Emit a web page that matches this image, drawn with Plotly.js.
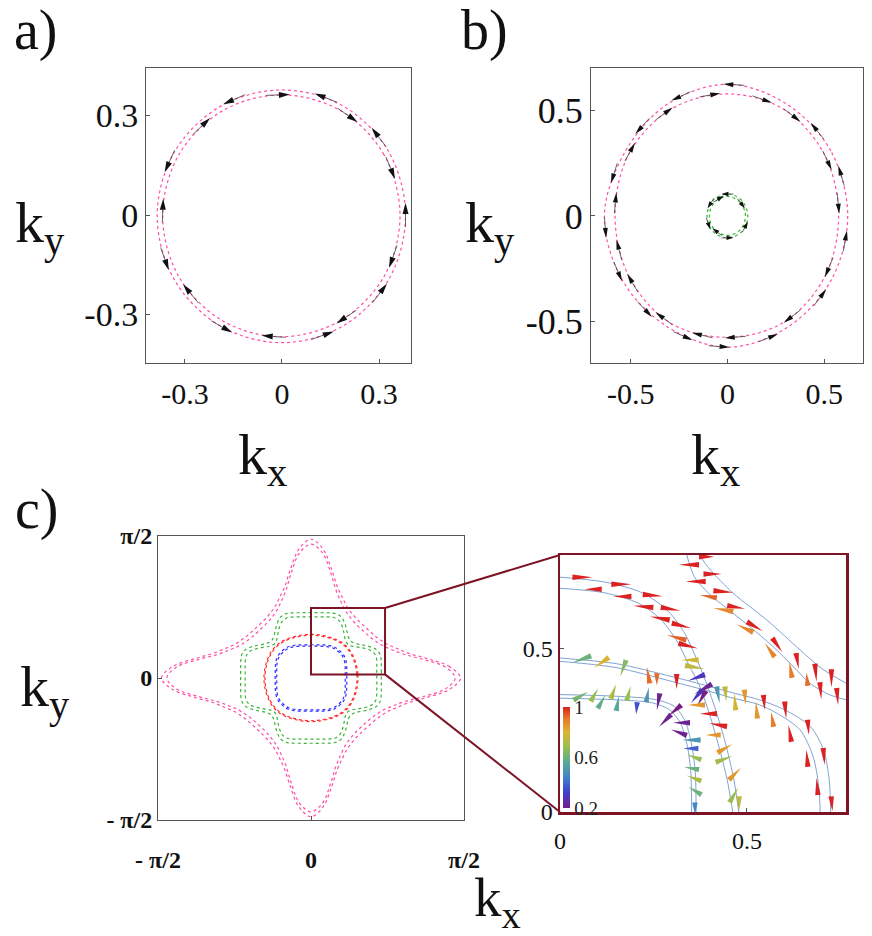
<!DOCTYPE html>
<html><head><meta charset="utf-8">
<script src="https://cdn.plot.ly/plotly-3.0.1.min.js"></script>
<style>body{margin:0;background:#fff}#chart{width:872px;height:936px}</style>
</head><body><div id="chart"></div>
<script>
// ================= DATA =================
// panel a: two spin-split Fermi circles (polar: angle deg, radius)
const aAng = [0,30,60,90,120,150,180,210,240,270,300,330];
const aOut = [0.382,0.381,0.379,0.377,0.379,0.383,0.386,0.386,0.385,0.385,0.384,0.383];
const aIn  = [0.365,0.364,0.363,0.362,0.364,0.367,0.369,0.369,0.368,0.367,0.366,0.366];
const aArrowOut = [155,113,69,38,0,-38,-71,-119,-160];      // counter-clockwise spins
const aArrowIn  = [178,133,92,56,23,-20,-57,-94,-140];      // clockwise spins
const aTickVals = [-0.3,0,0.3];
const aTickText = ['-0.3','0','0.3'];

// panel b
const bAng = [0,30,60,90,120,150,180,210,240,270,300,330];
const bOut = [0.621,0.616,0.612,0.624,0.614,0.610,0.636,0.622,0.610,0.622,0.612,0.616];
const bIn  = [0.574,0.579,0.583,0.578,0.584,0.588,0.581,0.584,0.587,0.575,0.582,0.579];
const bSmallAng = [0,45,90,135,180,225,270,315];
const bSmallOut = [0.105,0.104,0.104,0.105,0.106,0.105,0.104,0.105];
const bSmallIn  = [0.093,0.092,0.092,0.093,0.094,0.093,0.092,0.093];
const bArrowOut = [87,113,136,161,185,205,226,248,266,290,321,349,18,41];
const bArrowIn  = [99,124,149,174,196,213,236,257,274,305,335,6,27,55,72];
const bSmallArrowOut = [90,145,200,270,330];
const bSmallArrowIn  = [40,120,235];
const bTickVals = [-0.5,0,0.5];
const bTickText = ['-0.5','0','0.5'];

// panel c: first-quadrant radii (4-fold symmetric contours)
const cAng = [0,5,10,15,20,25,30,35,40,45,50,55,60,65,70,75,80,85,90];
const pinkOut  = [1.535,1.43,1.22,1.045,0.945,0.872,0.832,0.807,0.795,0.792,0.795,0.807,0.832,0.872,0.945,1.045,1.22,1.43,1.535];
const pinkIn   = [1.48,1.385,1.175,1.0,0.898,0.828,0.788,0.763,0.75,0.748,0.75,0.763,0.788,0.828,0.898,1.0,1.175,1.385,1.48];
const greenOut = [0.722,0.725,0.733,0.746,0.756,0.742,0.695,0.64,0.595,0.578,0.595,0.64,0.695,0.742,0.756,0.746,0.733,0.725,0.722];
const greenIn  = [0.676,0.678,0.686,0.699,0.709,0.695,0.648,0.594,0.549,0.532,0.549,0.594,0.648,0.695,0.709,0.699,0.686,0.678,0.676];
const redOut   = [0.483,0.483,0.484,0.486,0.489,0.493,0.497,0.501,0.504,0.505,0.504,0.501,0.497,0.493,0.489,0.486,0.484,0.483,0.483];
const redIn    = [0.473,0.473,0.474,0.476,0.479,0.483,0.487,0.491,0.494,0.495,0.494,0.491,0.487,0.483,0.479,0.476,0.474,0.473,0.473];
const blueOut  = [0.368,0.369,0.373,0.38,0.389,0.4,0.41,0.418,0.421,0.421,0.421,0.418,0.41,0.4,0.389,0.38,0.373,0.369,0.368];
const blueIn   = [0.352,0.353,0.357,0.364,0.373,0.384,0.394,0.402,0.405,0.405,0.405,0.402,0.394,0.384,0.373,0.364,0.357,0.353,0.352];
const cTickVals = [-Math.PI/2, 0, Math.PI/2];
const cTickText = ['- π/2','0','π/2'];
const zoomBoxX = [0, 0.76];
const zoomBoxY = [0.04, 0.775];

// inset: band lines (x, y pairs)
const tOutX = [0,0.12,0.22,0.29,0.335,0.365,0.39,0.42,0.445,0.465,0.478];
const tOutY = [0.72,0.705,0.672,0.615,0.545,0.47,0.40,0.30,0.20,0.10,0];
const tInX  = [0,0.12,0.21,0.27,0.315,0.345,0.372,0.40,0.425,0.447,0.462];
const tInY  = [0.686,0.672,0.64,0.59,0.52,0.45,0.39,0.30,0.20,0.10,0];
const mOutX = [0,0.15,0.30,0.40,0.46,0.53,0.60,0.67,0.705,0.72,0.724];
const mOutY = [0.472,0.455,0.415,0.385,0.366,0.345,0.314,0.262,0.19,0.10,0];
const mInX  = [0,0.15,0.30,0.40,0.46,0.53,0.58,0.642,0.677,0.692,0.696];
const mInY  = [0.462,0.443,0.40,0.37,0.35,0.33,0.303,0.252,0.17,0.08,0];
const lOutX = [0,0.15,0.254,0.307,0.336,0.353,0.362,0.364];
const lOutY = [0.36,0.355,0.345,0.323,0.275,0.2,0.12,0];
const lInX  = [0,0.15,0.245,0.295,0.324,0.341,0.35,0.352];
const lInY  = [0.349,0.344,0.335,0.312,0.268,0.2,0.12,0];
const pAX = [0.372,0.40,0.463,0.553,0.642,0.70,0.765];
const pAY = [0.788,0.745,0.671,0.589,0.497,0.44,0.395];
const pBX = [0.339,0.36,0.40,0.46,0.508,0.570,0.624,0.668,0.72,0.765];
const pBY = [0.788,0.72,0.668,0.612,0.568,0.507,0.446,0.395,0.36,0.344];

// inset: spin wedges (center x, center y, direction deg, length px, magnitude)
const wX = [0.060,0.089,0.164,0.167,0.248,0.223,0.296,0.267,0.325,0.312,0.343,0.348,0.361,0.365,0.383,0.365,0.379,0.365,0.397,0.423,0.410,0.441,0.439,0.468,0.465,0.479,
  0.345,0.392,0.408,0.363,0.437,0.397,0.471,0.437,0.521,0.495,0.581,0.561,0.635,0.617,0.684,0.661,0.726,0.742,0.697,
  0.058,0.111,0.169,0.236,0.259,0.312,0.423,0.443,0.468,0.495,0.526,0.546,0.568,0.603,0.615,0.664,0.661,0.706,0.688,0.727,
  0.056,0.092,0.111,0.143,0.154,0.184,0.205,0.234,0.263,0.307,0.281,0.325,0.318,0.352,0.350,0.359,0.352,0.359,0.361,0.361];
const wY = [0.720,0.683,0.698,0.661,0.664,0.630,0.622,0.594,0.571,0.535,0.509,0.466,0.444,0.412,0.377,0.354,0.349,0.328,0.301,0.267,0.236,0.195,0.162,0.117,0.052,0.025,
  0.758,0.783,0.730,0.707,0.676,0.661,0.628,0.620,0.569,0.563,0.512,0.497,0.463,0.436,0.427,0.407,0.410,0.354,0.372,
  0.468,0.458,0.441,0.420,0.407,0.400,0.359,0.362,0.338,0.352,0.313,0.336,0.284,0.313,0.241,0.260,0.165,0.170,0.078,0.025,
  0.356,0.359,0.338,0.369,0.333,0.364,0.318,0.359,0.338,0.311,0.280,0.274,0.244,0.221,0.195,0.168,0.134,0.103,0.065,0.011];
const wDir = [0,180,0,180,-5,175,-10,170,-15,165,-15,180,-10,-160,-150,-130,-120,180,180,170,180,30,20,45,60,-90,
  180,0,0,180,-5,170,-10,170,-30,155,-55,125,-80,100,-85,95,-90,-85,-85,
  200,215,-110,100,-90,-90,-80,-85,95,-85,95,-85,100,-85,100,-85,95,-85,95,-85,
  30,60,60,70,80,75,-95,80,-100,-140,-135,180,160,180,180,160,170,160,150,-90];
const wLen = [20,17,20,18,20,20,20,20,20,20,20,17,20,18,20,17,17,17,17,18,15,17,18,17,17,15,
  20,15,18,20,20,17,18,20,18,18,17,17,16,16,18,13,18,17,17,
  20,18,17,17,12,15,17,15,17,15,17,15,15,17,17,15,17,17,17,15,
  17,15,15,15,15,15,12,15,17,17,17,17,17,18,15,15,15,15,15,12];
const wVal = [1,1,1,1,1,1,1,1,1,0.93,1,0.78,0.75,0.3,0.22,0.3,0.2,0.85,1,1,0.85,0.85,0.7,0.85,0.68,0.75,
  1,1,1,1,1,0.93,1,0.88,1,0.88,1,0.88,1,0.9,1,0.92,1,1,1,
  0.6,0.8,0.65,0.92,0.92,1,0.5,0.75,0.78,0.85,0.85,1,0.9,1,1,1,1,1,1,1,
  0.62,0.68,0.58,0.72,0.55,0.68,0.35,0.5,0.22,0.2,0.22,0.22,0.22,0.5,0.38,0.68,0.6,0.72,0.6,0.45];
const insetTickVals = [0,0.5];
const insetTickText = ['0','0.5'];
const cbarTickVals = [0.2,0.6,1];
const cbarTickText = ['0.2','0.6','1'];
const cMin = 0.2, cMax = 1;

// ================= STYLE / GEOMETRY =================
const W = 872, H = 936;
const SERIF = '"Liberation Serif", "Times New Roman", serif';
const PINK = '#ff4fa6', GREEN = '#38b338', RED = '#ff2a2a', BLUE = '#2b2bff';
const MAROON = '#7d1426';
const rainbowStops = [[0,[120,28,134]],[0.15,[62,62,200]],[0.3,[66,128,205]],[0.45,[88,170,150]],
  [0.6,[150,190,80]],[0.75,[220,180,50]],[0.88,[232,122,40]],[1,[219,33,34]]];
const colorscale = rainbowStops.map(s => [s[0], 'rgb(' + s[1].join(',') + ')']);
function rainbow(v){
  let t = (v - cMin) / (cMax - cMin); t = Math.max(0, Math.min(1, t));
  for (let i = 0; i < rainbowStops.length - 1; i++){
    const [t0,c0] = rainbowStops[i], [t1,c1] = rainbowStops[i+1];
    if (t >= t0 && t <= t1){
      const f = (t - t0) / (t1 - t0);
      return 'rgb(' + c0.map((c,k) => Math.round(c + (c1[k]-c)*f)).join(',') + ')';
    }
  }
  return 'rgb(219,33,34)';
}
const px = {
  a: {x:[146,411], y:[68,363], xr:[-0.4205,0.3989], yr:[-0.4462,0.4432]},
  b: {x:[591,863], y:[68,363], xr:[-0.705,0.70], yr:[-0.697,0.701]},
  c: {x:[158,464], y:[536,820], xr:[-Math.PI/2,Math.PI/2], yr:[-Math.PI/2,Math.PI/2]},
  d: {x:[560,846], y:[555,812], xr:[0,0.765], yr:[0,0.788]}
};
function dom(p){ return {x:[p.x[0]/W, p.x[1]/W], y:[1-p.y[1]/H, 1-p.y[0]/H]}; }
function scale(p){ return {sx:(p.x[1]-p.x[0])/(p.xr[1]-p.xr[0]), sy:(p.y[1]-p.y[0])/(p.yr[1]-p.yr[0])}; }
function toPaper(p, vx, vy){
  const d = dom(p);
  return [d.x[0] + (vx-p.xr[0])/(p.xr[1]-p.xr[0])*(d.x[1]-d.x[0]),
          d.y[0] + (vy-p.yr[0])/(p.yr[1]-p.yr[0])*(d.y[1]-d.y[0])];
}
const DEG = Math.PI/180;
function closedPolar(angs, rs){
  const x=[], y=[];
  for (let i=0;i<angs.length;i++){ x.push(rs[i]*Math.cos(angs[i]*DEG)); y.push(rs[i]*Math.sin(angs[i]*DEG)); }
  x.push(x[0]); y.push(y[0]); return {x,y};
}
function fourfold(angQ, rQ){
  const A=[], R=[];
  for (let q=0;q<4;q++) for (let i=0;i<angQ.length-1;i++){ A.push(angQ[i]+90*q); R.push(rQ[i]); }
  return [A,R];
}
function rAt(angs, rs, th){
  th = ((th%360)+360)%360; const n = angs.length;
  for (let i=0;i<n;i++){
    const a0 = angs[i], a1 = (i+1<n) ? angs[i+1] : angs[0]+360;
    if (th >= a0 && th <= a1){ const t=(th-a0)/(a1-a0); return rs[i] + (rs[(i+1)%n]-rs[i])*t; }
  }
  return rs[0];
}
const f = v => v.toFixed(5);
function tri(tip, c1, c2){ return 'M'+f(tip[0])+','+f(tip[1])+' L'+f(c1[0])+','+f(c1[1])+' L'+f(c2[0])+','+f(c2[1])+' Z '; }

// arrows along contours: returns shafts + head path
function buildArrows(p, angList, angs, rs, sense, L, hl, hw, acc){
  const s = scale(p);
  angList.forEach(th => {
    const r = rAt(angs, rs, th);
    const cx = r*Math.cos(th*DEG), cy = r*Math.sin(th*DEG);
    let dx = -Math.sin(th*DEG)*sense*s.sx, dy = Math.cos(th*DEG)*sense*s.sy;
    const n = Math.hypot(dx,dy); dx/=n; dy/=n;
    const tip = [cx + L/2*dx/s.sx, cy + L/2*dy/s.sy];
    const tail = [cx - L/2*dx/s.sx, cy - L/2*dy/s.sy];
    const base = [tip[0] - hl*dx/s.sx, tip[1] - hl*dy/s.sy];
    const c1 = [base[0] - hw/2*dy/s.sx, base[1] + hw/2*dx/s.sy];
    const c2 = [base[0] + hw/2*dy/s.sx, base[1] - hw/2*dx/s.sy];
    acc.sx.push(tail[0], base[0], null); acc.sy.push(tail[1], base[1], null);
    acc.path += tri(tip, c1, c2);
  });
}

// ================= TRACES =================
const traces = [];
function contour(xy, color, xa, ya, w){
  traces.push({type:'scatter', mode:'lines', x:xy.x, y:xy.y, xaxis:xa, yaxis:ya,
    line:{color:color, width:w||1.2, dash:'dot', shape:'spline', smoothing:1},
    hoverinfo:'skip', showlegend:false});
}
// a
contour(closedPolar(aAng, aOut), PINK, 'x', 'y');
contour(closedPolar(aAng, aIn), PINK, 'x', 'y');
// b
contour(closedPolar(bAng, bOut), PINK, 'x2', 'y2');
contour(closedPolar(bAng, bIn), PINK, 'x2', 'y2');
contour(closedPolar(bSmallAng, bSmallOut), GREEN, 'x2', 'y2');
contour(closedPolar(bSmallAng, bSmallIn), GREEN, 'x2', 'y2');
// c
[[pinkOut,PINK],[pinkIn,PINK],[greenOut,GREEN],[greenIn,GREEN],[redOut,RED],[redIn,RED],[blueOut,BLUE],[blueIn,BLUE]].forEach(([rq,col]) => {
  const [A,R] = fourfold(cAng, rq);
  contour(closedPolar(A,R), col, 'x3', 'y3', 1.2);
});
// inset lines
[[tOutX,tOutY],[tInX,tInY],[mOutX,mOutY],[mInX,mInY],[lOutX,lOutY],[lInX,lInY],[pAX,pAY],[pBX,pBY]].forEach(([x,y]) => {
  traces.push({type:'scatter', mode:'lines', x:x, y:y, xaxis:'x4', yaxis:'y4',
    line:{color:'#7fa3d3', width:1, shape:'spline', smoothing:0.8}, hoverinfo:'skip', showlegend:false});
});

// arrows a & b
const shapes = [];
const accA = {sx:[], sy:[], path:''};
buildArrows(px.a, aArrowOut, aAng, aOut, 1, 24, 11, 6, accA);
buildArrows(px.a, aArrowIn, aAng, aIn, -1, 24, 11, 6, accA);
const accB = {sx:[], sy:[], path:''};
buildArrows(px.b, bArrowOut, bAng, bOut, 1, 21, 10, 5, accB);
buildArrows(px.b, bArrowIn, bAng, bIn, -1, 21, 10, 5, accB);
buildArrows(px.b, bSmallArrowOut, bSmallAng, bSmallOut, 1, 12, 7, 4.5, accB);
buildArrows(px.b, bSmallArrowIn, bSmallAng, bSmallIn, -1, 12, 7, 4.5, accB);
traces.push({type:'scatter', mode:'lines', x:accA.sx, y:accA.sy, xaxis:'x', yaxis:'y', line:{color:'#444', width:0.8}, hoverinfo:'skip', showlegend:false});
traces.push({type:'scatter', mode:'lines', x:accB.sx, y:accB.sy, xaxis:'x2', yaxis:'y2', line:{color:'#444', width:0.8}, hoverinfo:'skip', showlegend:false});
shapes.push({type:'path', xref:'x', yref:'y', path:accA.path, fillcolor:'#111', line:{width:0}});
shapes.push({type:'path', xref:'x2', yref:'y2', path:accB.path, fillcolor:'#111', line:{width:0}});

// inset wedges
(function(){
  const s = scale(px.d), WB = 5.5;
  for (let i=0;i<wX.length;i++){
    const dx = Math.cos(wDir[i]*DEG), dy = Math.sin(wDir[i]*DEG), L = wLen[i];
    const tip = [wX[i] + L/2*dx/s.sx, wY[i] + L/2*dy/s.sy];
    const base = [wX[i] - L/2*dx/s.sx, wY[i] - L/2*dy/s.sy];
    const c1 = [base[0] - WB/2*dy/s.sx, base[1] + WB/2*dx/s.sy];
    const c2 = [base[0] + WB/2*dy/s.sx, base[1] - WB/2*dx/s.sy];
    shapes.push({type:'path', xref:'x4', yref:'y4', path:tri(tip,c1,c2), fillcolor:rainbow(wVal[i]), line:{width:0}});
  }
})();

// colorbar (dummy trace)
traces.push({type:'scatter', mode:'markers', x:[-1,-1], y:[-1,-1], xaxis:'x4', yaxis:'y4',
  marker:{color:[cMin,cMax], cmin:cMin, cmax:cMax, colorscale:colorscale, size:1, showscale:true,
    colorbar:{x:563/W, xanchor:'left', y:1-757.5/H, yanchor:'middle', len:101/H, lenmode:'fraction',
      thickness:7, thicknessmode:'pixels', outlinewidth:0, xpad:0, ypad:0, ticks:'',
      tickvals:cbarTickVals, ticktext:cbarTickText, tickfont:{family:SERIF, size:19, color:'#222'},
      bgcolor:'rgba(0,0,0,0)'}},
  hoverinfo:'skip', showlegend:false});

// zoom box + connectors
shapes.push({type:'rect', xref:'x3', yref:'y3', x0:zoomBoxX[0], x1:zoomBoxX[1], y0:zoomBoxY[0], y1:zoomBoxY[1],
  line:{color:MAROON, width:2}});
const pTR = toPaper(px.c, zoomBoxX[1], zoomBoxY[1]), pBR = toPaper(px.c, zoomBoxX[1], zoomBoxY[0]);
const qTL = toPaper(px.d, px.d.xr[0], px.d.yr[1]), qBL = toPaper(px.d, px.d.xr[0], px.d.yr[0]);
shapes.push({type:'line', xref:'paper', yref:'paper', x0:pTR[0], y0:pTR[1], x1:qTL[0], y1:qTL[1], line:{color:MAROON, width:2}});
shapes.push({type:'line', xref:'paper', yref:'paper', x0:pBR[0], y0:pBR[1], x1:qBL[0], y1:qBL[1], line:{color:MAROON, width:2}});

// ================= LAYOUT =================
function axis(p, which, extra){
  const d = dom(p);
  return Object.assign({domain: which==='x'? d.x : d.y, range: which==='x'? p.xr : p.yr,
    showline:true, mirror:true, linecolor:'#555', linewidth:1, ticks:'inside', ticklen:4, tickcolor:'#555',
    showgrid:false, zeroline:false, fixedrange:true, tickmode:'array'}, extra);
}
const tf = (size, bold) => ({family:SERIF, size:size, color:'#111', weight: bold? 'bold':'normal'});
const layout = {
  width:W, height:H, margin:{l:0,r:0,t:0,b:0, autoexpand:false},
  paper_bgcolor:'#fff', plot_bgcolor:'#fff', showlegend:false,
  xaxis:  axis(px.a,'x',{anchor:'y',  tickvals:aTickVals, ticktext:aTickText, tickfont:tf(30), ticklabelstandoff:4}),
  yaxis:  axis(px.a,'y',{anchor:'x',  tickvals:aTickVals, ticktext:aTickText, tickfont:tf(34)}),
  xaxis2: axis(px.b,'x',{anchor:'y2', tickvals:bTickVals, ticktext:bTickText, tickfont:tf(30), ticklabelstandoff:4}),
  yaxis2: axis(px.b,'y',{anchor:'x2', tickvals:bTickVals, ticktext:bTickText, tickfont:tf(36)}),
  xaxis3: axis(px.c,'x',{anchor:'y3', tickvals:cTickVals, ticktext:cTickText, tickfont:tf(24,true), ticklabelstandoff:18}),
  yaxis3: axis(px.c,'y',{anchor:'x3', tickvals:cTickVals, ticktext:cTickText, tickfont:tf(24,true)}),
  xaxis4: axis(px.d,'x',{anchor:'y4', tickvals:insetTickVals, ticktext:insetTickText, tickfont:tf(24), linecolor:MAROON, linewidth:2.5, tickcolor:'#555', ticklabelstandoff:6}),
  yaxis4: axis(px.d,'y',{anchor:'x4', tickvals:insetTickVals, ticktext:insetTickText, tickfont:tf(24), linecolor:MAROON, linewidth:2.5, tickcolor:'#555'}),
  shapes: shapes,
  annotations: []
};
function note(text, x, y, size){
  layout.annotations.push({text:text, xref:'paper', yref:'paper', x:x/W, y:1-y/H, xanchor:'center', yanchor:'middle',
    showarrow:false, font:{family:SERIF, size:size, color:'#111'}});
}
note('a)', 36, 31, 56); note('b)', 484, 31, 56); note('c)', 37, 510, 56);
note('k<sub>y</sub>', 40, 226, 58); note('k<sub>y</sub>', 490, 226, 58); note('k<sub>y</sub>', 45, 690, 58);
note('k<sub>x</sub>', 262, 458, 58); note('k<sub>x</sub>', 715, 458, 58); note('k<sub>x</sub>', 497, 901, 55);

Plotly.newPlot('chart', traces, layout, {staticPlot:true, displayModeBar:false});
</script>
</body></html>
